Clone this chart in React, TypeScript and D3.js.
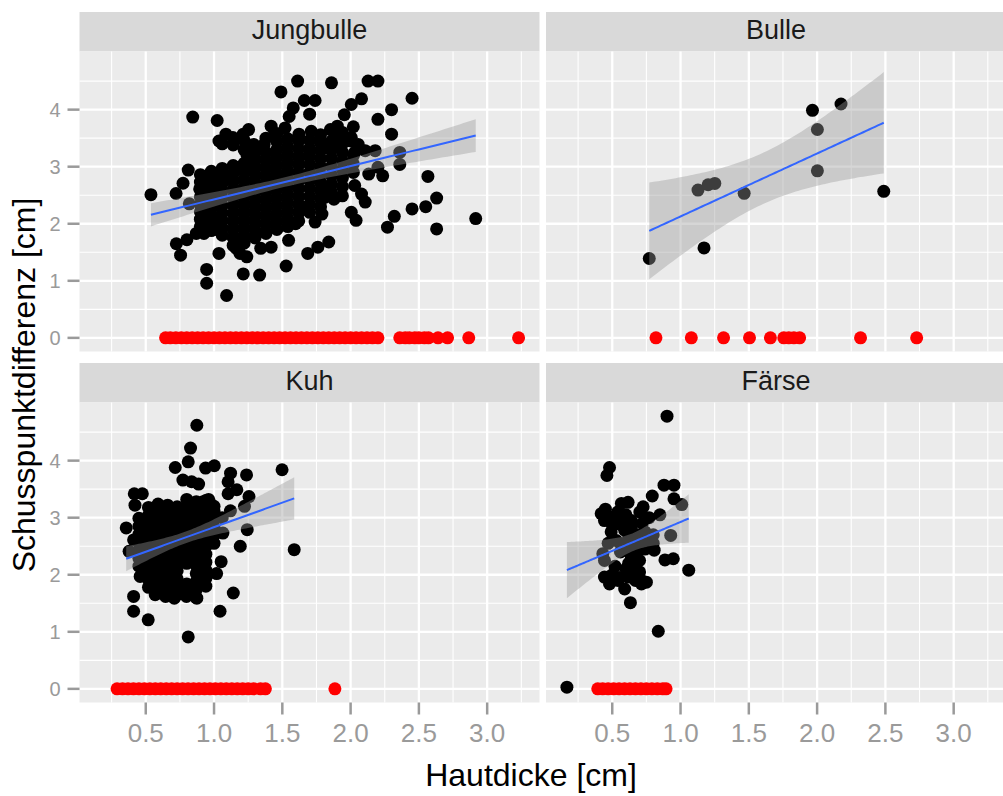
import React from 'react';
import * as d3 from 'd3';

// ---------- DATA ----------
const panelNames = ['Jungbulle', 'Bulle', 'Kuh', 'Färse'];
const xTicks = [0.5, 1.0, 1.5, 2.0, 2.5, 3.0];
const yTicks = [0, 1, 2, 3, 4];
const xTitle = 'Hautdicke [cm]';
const yTitle = 'Schusspunktdifferenz [cm]';

// Jungbulle: individually read points
const jungbulleOuter: [number, number][] = [
  [0.538, 2.51], [0.722, 2.53], [0.773, 2.71], [0.811, 2.94], [0.844, 3.87], [0.724, 1.65], [0.755, 1.45],
  [0.801, 1.72], [0.87, 1.83], [0.926, 1.83], [0.819, 2.35], [0.946, 1.2], [0.946, 0.957], [1.092, 0.742],
  [1.036, 1.48], [1.036, 1.93], [1.023, 3.81], [1.214, 1.12], [1.334, 1.1], [1.528, 1.26], [1.49, 4.31],
  [1.612, 4.5], [1.86, 4.47], [1.661, 4.16], [1.74, 4.16], [1.7, 3.92], [1.58, 4.03], [1.55, 3.88],
  [2.128, 4.5], [2.2, 4.5], [2.08, 4.19], [2.005, 4.09], [1.954, 3.91], [2.45, 4.2], [2.3, 4.0], [2.2, 3.83],
  [2.3, 3.57], [2.36, 3.25], [2.36, 3.04], [2.566, 2.83], [2.63, 2.45], [2.55, 2.3], [2.45, 2.26], [2.63, 1.91],
  [2.32, 2.13], [2.27, 1.94], [2.916, 2.09], [2.235, 2.84], [2.133, 2.87], [2.2, 2.99], [2.18, 3.28],
  [2.107, 3.28], [2.03, 3.25], [2.056, 3.39], [2.005, 3.51], [2.03, 2.67], [2.08, 2.52], [2.107, 2.38],
  [2.005, 2.2], [2.04, 2.06], [1.94, 2.49], [1.878, 2.43], [1.8, 2.64], [1.81, 2.46], [1.79, 2.17],
  [1.74, 2.03], [1.84, 1.68], [1.76, 1.59], [1.686, 1.48], [1.597, 2.0], [1.648, 2.29], [1.546, 1.71],
  [1.19, 1.71], [1.19, 1.48], [1.24, 1.42], [1.163, 1.57], [1.342, 1.57], [1.418, 1.59], [1.38, 1.83],
  [0.972, 2.87], [0.934, 2.72], [0.895, 2.61], [1.087, 2.81], [1.163, 2.99], [1.036, 3.45], [1.087, 3.57],
  [1.138, 3.51], [1.214, 3.57], [1.253, 3.65], [1.418, 3.71], [1.444, 3.57], [1.367, 3.39], [1.29, 3.39],
  [1.24, 3.22], [1.52, 3.68], [1.622, 3.57], [1.712, 3.62], [1.776, 3.45], [1.852, 3.65], [1.903, 3.71],
  [1.827, 3.33], [1.7, 3.28], [1.622, 3.16],
  [1.95, 3.5], [1.9, 3.55], [2.0, 3.45], [1.92, 3.35], [0.95, 1.95], [1.0, 1.9], [0.93, 2.05], [1.02, 2.0],
];
// Jungbulle: dense core, read column by column
const jungbulleCore: [number, number[]][] = [
  [0.90, [1.95, 2.08, 2.21, 2.34, 2.47, 2.6, 2.73, 2.86]],
  [0.98, [1.88, 2.01, 2.14, 2.27, 2.4, 2.53, 2.66, 2.79, 2.92]],
  [1.06, [1.8, 1.93, 2.06, 2.19, 2.32, 2.45, 2.58, 2.71, 2.84, 2.97, 3.4]],
  [1.14, [1.62, 1.76, 1.9, 2.04, 2.18, 2.32, 2.46, 2.6, 2.74, 2.88, 3.02, 3.38]],
  [1.22, [1.66, 1.8, 1.94, 2.08, 2.22, 2.36, 2.5, 2.64, 2.78, 2.92, 3.06, 3.3, 3.46]],
  [1.30, [1.75, 1.89, 2.03, 2.17, 2.31, 2.45, 2.59, 2.73, 2.87, 3.01, 3.15, 3.29]],
  [1.38, [1.85, 1.99, 2.13, 2.27, 2.41, 2.55, 2.69, 2.83, 2.97, 3.11, 3.25, 3.5]],
  [1.46, [1.9, 2.04, 2.18, 2.32, 2.46, 2.6, 2.74, 2.88, 3.02, 3.16, 3.3, 3.44, 3.58]],
  [1.54, [1.95, 2.09, 2.23, 2.37, 2.51, 2.65, 2.79, 2.93, 3.07, 3.21, 3.35, 3.49]],
  [1.62, [2.05, 2.19, 2.33, 2.47, 2.61, 2.75, 2.89, 3.03, 3.17, 3.31, 3.45]],
  [1.70, [2.2, 2.34, 2.48, 2.62, 2.76, 2.9, 3.04, 3.18, 3.32, 3.46]],
  [1.78, [2.3, 2.44, 2.58, 2.72, 2.86, 3.0, 3.14, 3.28, 3.42, 3.56]],
  [1.86, [2.55, 2.7, 2.85, 3.0, 3.15, 3.3, 3.45]],
  [1.94, [2.65, 2.8, 2.95, 3.1, 3.25, 3.4, 3.6]],
  [2.02, [2.9, 3.05, 3.2, 3.7]],
];
const jungbulleZero: number[] = [
  0.645, 0.68, 0.72, 0.76, 0.8, 0.84, 0.88, 0.92, 0.96, 1.0, 1.04, 1.08, 1.12, 1.16, 1.2, 1.24, 1.28, 1.32,
  1.36, 1.4, 1.44, 1.48, 1.52, 1.56, 1.6, 1.64, 1.68, 1.72, 1.76, 1.8, 1.84, 1.88, 1.92, 1.96, 2.0, 2.04,
  2.08, 2.12, 2.16, 2.2, 2.36, 2.4, 2.43, 2.47, 2.5, 2.54, 2.57, 2.64, 2.71, 2.865, 3.23,
];

// Bulle
const bullePoints: [number, number][] = [
  [0.771, 1.391], [1.172, 1.577], [1.128, 2.591], [1.202, 2.684], [1.251, 2.707], [1.466, 2.533],
  [1.966, 3.988], [2.175, 4.099], [2.002, 3.652], [2.002, 2.928], [2.488, 2.568],
];
const bulleZero: number[] = [0.82, 1.079, 1.315, 1.505, 1.658, 1.756, 1.793, 1.83, 1.872, 2.318, 2.729];

// Kuh
const kuhOuter: [number, number][] = [
  [0.874, 4.62], [0.828, 4.22], [0.811, 3.98], [0.716, 3.88], [0.772, 3.66], [0.836, 3.63], [0.887, 3.59],
  [0.938, 3.87], [1.002, 3.91], [1.121, 3.78], [1.238, 3.75], [1.103, 3.63], [1.167, 3.49], [1.103, 3.42],
  [1.498, 3.84], [1.256, 3.37], [1.223, 3.2], [1.243, 2.79], [1.192, 2.5], [1.587, 2.44], [1.052, 2.23],
  [1.019, 2.02], [1.141, 1.68], [1.044, 1.36], [0.811, 0.91], [0.518, 1.21], [0.411, 1.36], [0.411, 1.62],
  [0.459, 1.97], [0.357, 2.82], [0.411, 2.61], [0.378, 2.41], [0.421, 3.22], [0.416, 3.42], [0.475, 3.42],
  [0.938, 2.61], [1.065, 2.73], [0.874, 1.59], [0.798, 1.62], [0.709, 1.59], [0.645, 1.62], [0.569, 1.65],
  [0.53, 1.83], [1.12, 3.12], [1.06, 3.0], [1.0, 3.2],
  [0.93, 3.15], [0.95, 3.22], [0.97, 3.05], [0.92, 3.28], [0.98, 3.2], [0.96, 3.1], [0.9, 3.18], [0.99, 3.0],
  [0.94, 3.3], [0.91, 3.08], [0.97, 3.26], [0.95, 2.98], [1.0, 3.05], [0.92, 3.0], [0.96, 3.32],
];
const kuhCore: [number, number[]][] = [
  [0.45, [2.15, 2.29, 2.43, 2.57, 2.71, 2.85, 2.99]],
  [0.52, [1.78, 1.92, 2.06, 2.2, 2.34, 2.48, 2.62, 2.76, 2.9, 3.04, 3.18]],
  [0.59, [1.7, 1.84, 1.98, 2.12, 2.26, 2.4, 2.54, 2.68, 2.82, 2.96, 3.1, 3.24]],
  [0.66, [1.72, 1.86, 2.0, 2.14, 2.28, 2.42, 2.56, 2.7, 2.84, 2.98, 3.12, 3.22]],
  [0.73, [1.65, 1.79, 1.93, 2.07, 2.21, 2.35, 2.49, 2.63, 2.77, 2.91, 3.05, 3.19]],
  [0.80, [1.7, 1.84, 2.2, 2.34, 2.48, 2.62, 2.76, 2.9, 3.04, 3.18, 3.32]],
  [0.87, [1.6, 1.74, 1.88, 2.02, 2.16, 2.3, 2.44, 2.58, 2.72, 2.86, 3.0, 3.14, 3.28]],
  [0.94, [1.8, 1.94, 2.08, 2.22, 2.36, 2.5, 2.64, 2.78, 2.92, 3.06, 3.2]],
  [1.0, [2.55, 2.69, 2.83, 2.97, 3.11]],
];
const kuhZero: number[] = [
  0.29, 0.33, 0.37, 0.41, 0.45, 0.49, 0.53, 0.57, 0.61, 0.65, 0.69, 0.73, 0.77, 0.81, 0.85, 0.89, 0.93,
  0.97, 1.01, 1.05, 1.09, 1.13, 1.17, 1.21, 1.25, 1.29, 1.34, 1.376, 1.885,
];

// Färse
const faersePoints: [number, number][] = [
  [0.901, 4.78], [0.48, 3.88], [0.461, 3.74], [0.879, 3.57], [0.952, 3.57], [0.793, 3.38], [0.952, 3.33],
  [1.009, 3.23], [0.849, 3.05], [0.928, 2.69], [0.726, 3.19], [0.702, 3.1], [0.616, 3.27], [0.567, 3.25],
  [0.419, 3.07], [0.443, 2.95], [0.492, 3.01], [0.54, 3.1], [0.6, 3.05], [0.529, 2.89], [0.591, 2.78],
  [0.64, 2.84], [0.492, 2.75], [0.431, 2.37], [0.443, 2.25], [0.807, 2.43], [0.886, 2.26], [0.947, 2.28],
  [1.06, 2.08], [0.64, 2.31], [0.665, 2.13], [0.616, 1.96], [0.714, 1.84], [0.75, 1.87], [0.443, 1.96],
  [0.48, 1.84], [0.542, 1.9], [0.591, 1.75], [0.633, 1.51], [0.837, 1.01], [0.168, 0.03],
  [0.56, 2.4], [0.56, 2.55], [0.62, 2.45], [0.62, 2.6], [0.62, 2.7], [0.68, 2.4], [0.68, 2.55], [0.68, 2.7],
  [0.74, 2.45], [0.74, 2.6], [0.74, 2.75], [0.8, 2.55], [0.8, 2.7], [0.7, 2.25], [0.66, 2.0], [0.7, 2.05],
  [0.6, 2.1], [0.52, 2.15], [0.5, 2.0], [0.55, 1.95], [0.7, 1.95], [0.62, 2.2], [0.67, 1.9], [0.58, 2.97],
  [0.5, 2.88], [0.47, 2.55], [0.53, 2.6], [0.45, 3.15], [0.64, 2.95], [0.72, 2.9], [0.77, 3.0],
];
const faerseZero: number[] = [0.394, 0.43, 0.47, 0.51, 0.55, 0.59, 0.63, 0.67, 0.71, 0.75, 0.79, 0.83, 0.87, 0.894];

// ---------- HELPERS ----------
const flattenCore = (core: [number, number[]][]): [number, number][] =>
  core.flatMap(([x, ys]) => ys.map((y) => [x, y] as [number, number]));

const panelData: { name: string; pts: [number, number][]; zero: number[] }[] = [
  { name: panelNames[0], pts: [...jungbulleOuter, ...flattenCore(jungbulleCore)], zero: jungbulleZero },
  { name: panelNames[1], pts: bullePoints, zero: bulleZero },
  { name: panelNames[2], pts: [...kuhOuter, ...flattenCore(kuhCore)], zero: kuhZero },
  { name: panelNames[3], pts: faersePoints, zero: faerseZero },
];

// t quantile (0.975) via Cornish-Fisher expansion
function tQuant(df: number) {
  const z = 1.959964;
  const z3 = z ** 3, z5 = z ** 5, z7 = z ** 7;
  return z + (z3 + z) / (4 * df) + (5 * z5 + 16 * z3 + 3 * z) / (96 * df * df) +
    (3 * z7 + 19 * z5 + 17 * z3 - 15 * z) / (384 * df ** 3);
}

function lmBand(pts: [number, number][]) {
  const n = pts.length;
  const xbar = d3.mean(pts, (d) => d[0]) as number;
  const ybar = d3.mean(pts, (d) => d[1]) as number;
  let sxx = 0, sxy = 0;
  pts.forEach(([x, y]) => { sxx += (x - xbar) ** 2; sxy += (x - xbar) * (y - ybar); });
  const b = sxy / sxx, a = ybar - b * xbar;
  let sse = 0;
  pts.forEach(([x, y]) => { sse += (y - a - b * x) ** 2; });
  const s = Math.sqrt(sse / (n - 2));
  const t = tQuant(n - 2);
  const [x0, x1] = d3.extent(pts, (d) => d[0]) as [number, number];
  return d3.range(81).map((i) => {
    const x = x0 + ((x1 - x0) * i) / 80;
    const yh = a + b * x;
    const se = s * Math.sqrt(1 / n + (x - xbar) ** 2 / sxx);
    return { x, y: yh, lo: yh - t * se, hi: yh + t * se };
  });
}

// ---------- LAYOUT ----------
const W = 1003, H = 796;
const colX = [79.5, 546];
const panelW = 460;
const rowY = [51.5, 402.5];
const panelH = 300;
const stripH = 39.5;
const font = '"Liberation Sans", Arial, Helvetica, sans-serif';

const allX = panelData.flatMap((p) => [...p.pts.map((d) => d[0]), ...p.zero]);
const allY = panelData.flatMap((p) => [...p.pts.map((d) => d[1]), 0]);
const [xmn, xmx] = d3.extent(allX) as [number, number];
const [ymn, ymx] = d3.extent(allY) as [number, number];
const xPad = (xmx - xmn) * 0.05, yPad = (ymx - ymn) * 0.05;

export default function App() {
  const x = d3.scaleLinear().domain([xmn - xPad, xmx + xPad]).range([0, panelW]);
  const y = d3.scaleLinear().domain([ymn - yPad, ymx + yPad]).range([panelH, 0]);
  const xMinor = d3.range(0.25, 3.5, 0.5).filter((v) => v >= x.domain()[0] && v <= x.domain()[1]);
  const yMinor = d3.range(0.5, 5, 1).filter((v) => v <= y.domain()[1]);
  const area = d3.area<{ x: number; lo: number; hi: number }>()
    .x((d) => x(d.x)).y0((d) => y(d.lo)).y1((d) => y(d.hi));
  const line = d3.line<{ x: number; y: number }>().x((d) => x(d.x)).y((d) => y(d.y));
  const grey = '#9a9a9a';
  const r = 6.5;

  return (
    <svg width={W} height={H} style={{ position: 'absolute', left: 0, top: 0, background: '#fff' }}
      fontFamily={font}>
      <rect width={W} height={H} fill="#fff" />
      {panelData.map((p, i) => {
        const cx = colX[i % 2], cy = rowY[Math.floor(i / 2)];
        const band = lmBand(p.pts);
        return (
          <g key={p.name}>
            <rect x={cx} y={cy - stripH} width={panelW} height={stripH} fill="#d9d9d9" />
            <text x={cx + panelW / 2} y={cy - 12.5} textAnchor="middle" fontSize={27} fill="#1a1a1a">{p.name}</text>
            <g transform={`translate(${cx},${cy})`}>
              <rect width={panelW} height={panelH} fill="#ebebeb" />
              {xMinor.map((v) => <line key={'xm' + v} x1={x(v)} x2={x(v)} y1={0} y2={panelH} stroke="#fff" strokeWidth={1.1} />)}
              {yMinor.map((v) => <line key={'ym' + v} y1={y(v)} y2={y(v)} x1={0} x2={panelW} stroke="#fff" strokeWidth={1.1} />)}
              {xTicks.map((v) => <line key={'xM' + v} x1={x(v)} x2={x(v)} y1={0} y2={panelH} stroke="#fff" strokeWidth={2.3} />)}
              {yTicks.map((v) => <line key={'yM' + v} y1={y(v)} y2={y(v)} x1={0} x2={panelW} stroke="#fff" strokeWidth={2.3} />)}
              {p.pts.map((d, j) => <circle key={'p' + j} cx={x(d[0])} cy={y(d[1])} r={r} fill="#000" />)}
              {p.zero.map((v, j) => <circle key={'z' + j} cx={x(v)} cy={y(0)} r={r} fill="#ff0000" />)}
              <path d={area(band) || ''} fill="#999999" fillOpacity={0.4} />
              <path d={line(band) || ''} fill="none" stroke="#3366ff" strokeWidth={2} />
              {i % 2 === 0 && yTicks.map((v) => (
                <g key={'yt' + v}>
                  <line x1={-12} x2={0} y1={y(v)} y2={y(v)} stroke={grey} strokeWidth={2.5} />
                  <text x={-19} y={y(v)} dy="0.36em" textAnchor="end" fontSize={20} fill={grey}>{v}</text>
                </g>
              ))}
              {i >= 2 && xTicks.map((v) => (
                <g key={'xt' + v}>
                  <line x1={x(v)} x2={x(v)} y1={panelH} y2={panelH + 12} stroke={grey} strokeWidth={2.5} />
                  <text x={x(v)} y={panelH + 39.5} textAnchor="middle" fontSize={26} fill={grey}>{v.toFixed(1)}</text>
                </g>
              ))}
            </g>
          </g>
        );
      })}
      <text x={531} y={786} textAnchor="middle" fontSize={32} fill="#000">{xTitle}</text>
      <text transform="translate(35,385) rotate(-90)" textAnchor="middle" fontSize={32} fill="#000">{yTitle}</text>
    </svg>
  );
}
